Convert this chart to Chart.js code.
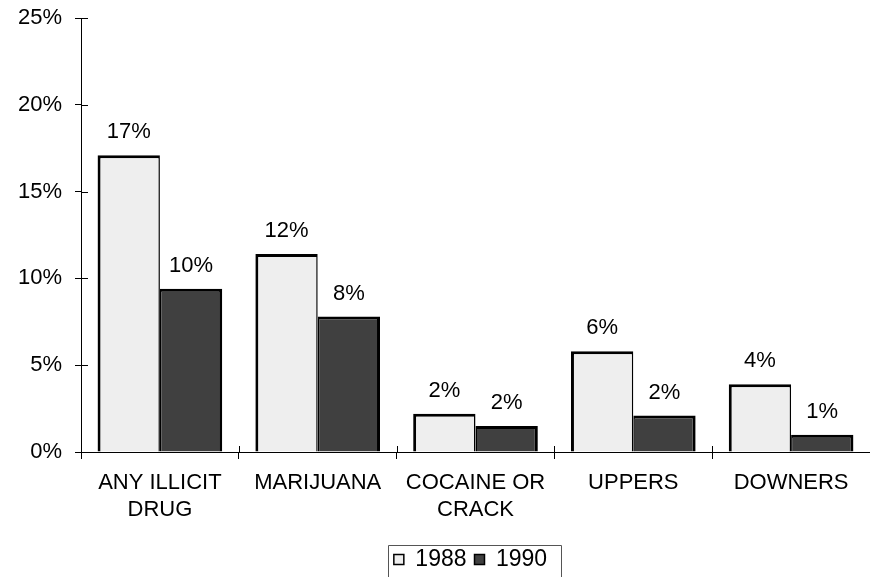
<!DOCTYPE html>
<html>
<head>
<meta charset="utf-8">
<script src="https://cdn.jsdelivr.net/npm/chart.js@4.4.1/dist/chart.umd.min.js"></script>
<style>
  body { margin: 0; background: #ffffff; }
  canvas { display: block; }
</style>
</head>
<body>
<canvas id="drugs" width="870" height="577"></canvas>
<script>
//categories on the x axis (arrays = two lines)
const categories = [["ANY ILLICIT", "DRUG"], "MARIJUANA", ["COCAINE OR", "CRACK"], "UPPERS", "DOWNERS"];
//series values in percent
const values1988 = [17.1, 11.4, 2.2, 5.8, 3.9];
const values1990 = [9.4, 7.8, 1.5, 2.1, 1.0];
//labels printed above the bars
const labels1988 = ["17%", "12%", "2%", "6%", "4%"];
const labels1990 = ["10%", "8%", "2%", "2%", "1%"];
//y axis ticks
const yTicks = [0, 5, 10, 15, 20, 25];

Chart.defaults.font.family = "'Liberation Sans', Arial, sans-serif";
Chart.defaults.color = "#000000";

//text above each bar
const barLabels = {
  id: "barLabels",
  afterDatasetsDraw(chart) {
    const ctx = chart.ctx;
    const texts = [labels1988, labels1990];
    ctx.save();
    ctx.font = "22px 'Liberation Sans', Arial, sans-serif";
    ctx.fillStyle = "#000000";
    ctx.textAlign = "center";
    ctx.textBaseline = "alphabetic";
    chart.data.datasets.forEach((ds, d) => {
      chart.getDatasetMeta(d).data.forEach((bar, i) => {
        ctx.fillText(texts[d][i], bar.x, bar.y - 17);
      });
    });
    ctx.restore();
  },
};

//tick marks that also reach into the plot area, plus the legend frame
const extras = {
  id: "extras",
  afterLayout(chart) {
    //legend sits a little left of the plot centre
    chart.legend.left -= 5;
    chart.legend.right -= 5;
  },
  afterDraw(chart) {
    const ctx = chart.ctx;
    const x = chart.scales.x;
    const y = chart.scales.y;
    const area = chart.chartArea;
    ctx.save();
    ctx.strokeStyle = "#000000";
    ctx.lineWidth = 1;
    ctx.beginPath();
    y.ticks.forEach((t) => {
      const py = Math.round(y.getPixelForValue(t.value)) + 0.5;
      ctx.moveTo(area.left, py);
      ctx.lineTo(area.left + 7, py);
    });
    for (let i = 1; i < categories.length; i++) {
      const px = Math.round((x.getPixelForValue(i - 1) + x.getPixelForValue(i)) / 2) + 0.5;
      ctx.moveTo(px, area.bottom - 6);
      ctx.lineTo(px, area.bottom);
    }
    ctx.stroke();
    //legend frame
    const lg = chart.legend;
    const boxes = lg.legendHitBoxes;
    if (boxes && boxes.length) {
      const first = boxes[0];
      const last = boxes[boxes.length - 1];
      const left = Math.round(first.left - 6) + 0.5;
      const right = Math.round(last.left + last.width + 14) + 0.5;
      const top = Math.round(lg.top + 5) + 0.5;
      ctx.strokeStyle = "#555555";
      ctx.beginPath();
      ctx.moveTo(left, chart.height + 5);
      ctx.lineTo(left, top);
      ctx.lineTo(right, top);
      ctx.lineTo(right, chart.height + 5);
      ctx.stroke();
    }
    ctx.restore();
  },
};

let myChart = new Chart(document.getElementById("drugs"), {
  type: "bar",
  plugins: [barLabels, extras],
  data: {
    labels: categories,
    datasets: [
      {
        label: "1988",
        data: values1988,
        backgroundColor: "#eeeeee",
        borderColor: "#000000",
        borderWidth: { top: 3, left: 3, right: 1.5, bottom: 0 },
        borderSkipped: false,
        inflateAmount: 0,
        categoryPercentage: 0.79,
        barPercentage: 1,
      },
      {
        label: "1990",
        data: values1990,
        backgroundColor: "#404040",
        borderColor: "#000000",
        borderWidth: { top: 3, left: 1.5, right: 3, bottom: 0 },
        borderSkipped: false,
        inflateAmount: 0,
        categoryPercentage: 0.79,
        barPercentage: 1,
      },
    ],
  },
  options: {
    responsive: false,
    animation: false,
    layout: { padding: { top: 18, right: 0, bottom: -4, left: 0 } },
    plugins: {
      tooltip: { enabled: false },
      legend: {
        position: "bottom",
        fullSize: false,
        labels: {
          boxWidth: 10,
          boxHeight: 10,
          padding: 8,
          color: "#000000",
          font: { size: 23 },
          generateLabels: (chart) =>
            chart.data.datasets.map((ds, i) => ({
              text: ds.label,
              fillStyle: ds.backgroundColor,
              strokeStyle: "#000000",
              lineWidth: 1.5,
              datasetIndex: i,
            })),
        },
      },
    },
    scales: {
      x: {
        grid: { display: true, drawOnChartArea: false, drawTicks: true, tickLength: 7, color: "#000000", offset: true },
        border: { display: true, color: "#000000", width: 1 },
        ticks: { padding: 10, font: { size: 22, lineHeight: 1.25 }, maxRotation: 0, autoSkip: false },
        afterFit: (scale) => { scale.height = 88; },
      },
      y: {
        min: 0,
        max: 25,
        grid: { display: true, drawOnChartArea: false, drawTicks: true, tickLength: 6, color: "#000000" },
        border: { display: true, color: "#000000", width: 1 },
        ticks: {
          stepSize: 5,
          padding: 13,
          font: { size: 22 },
          callback: (v) => (yTicks.includes(v) ? v + "%" : ""),
        },
        afterFit: (scale) => {
          scale.width = 81;
          scale.paddingTop = 0;
          scale.paddingBottom = 0;
        },
      },
    },
  },
});
</script>
</body>
</html>
